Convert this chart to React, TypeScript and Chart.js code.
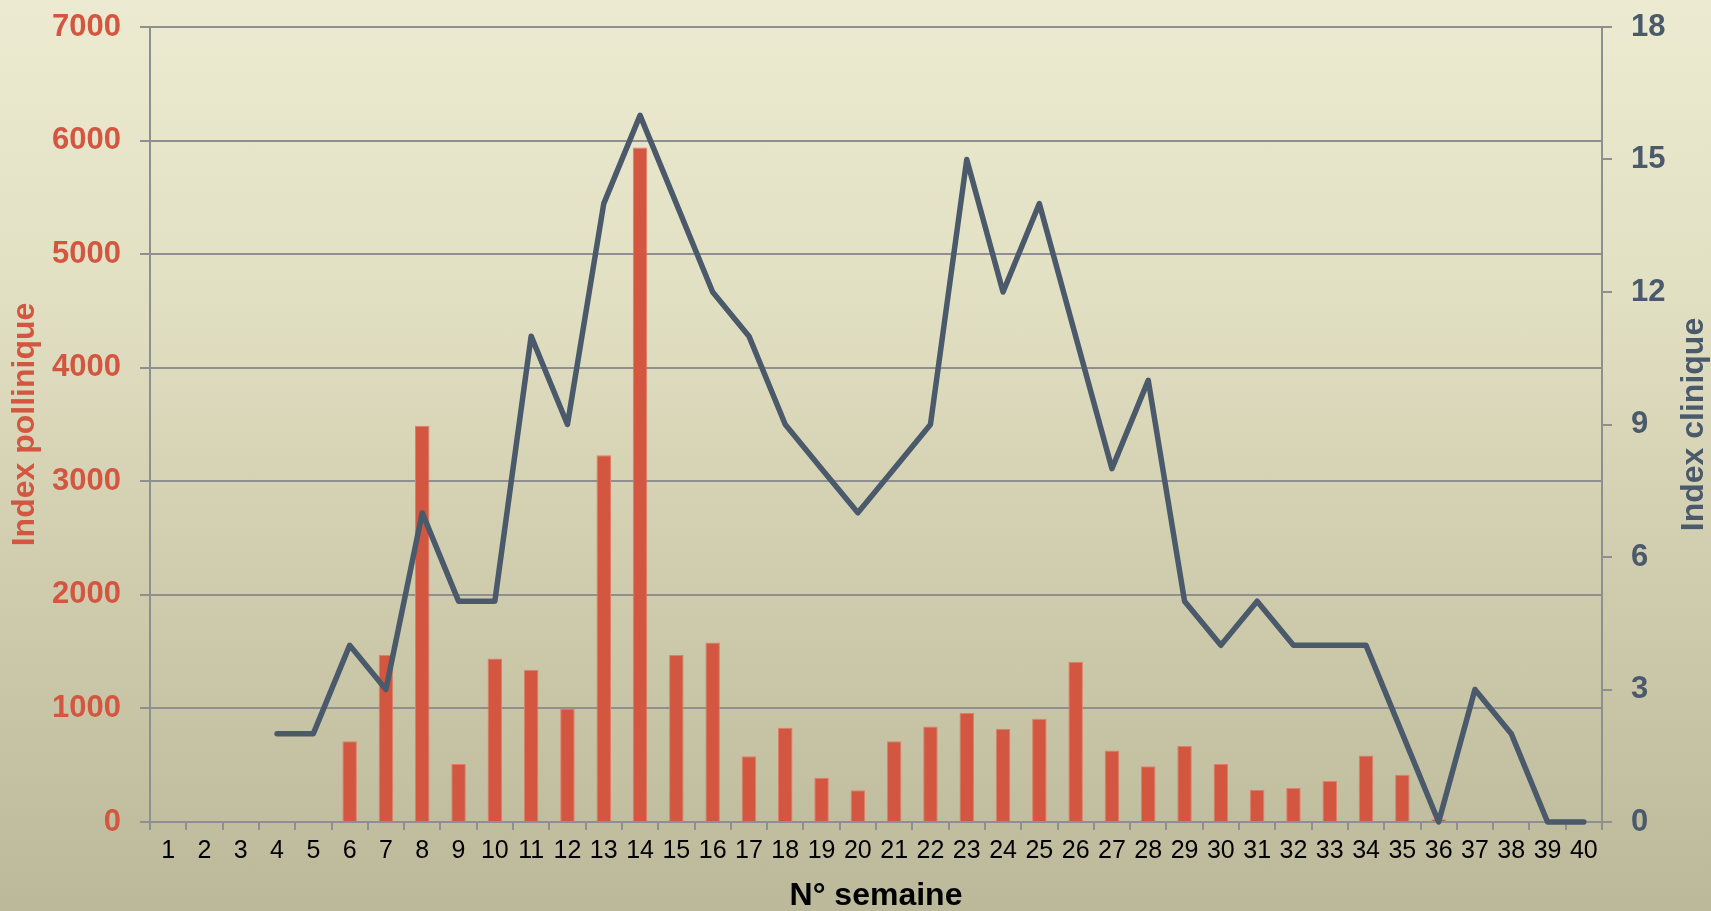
import React, { useEffect, useRef } from "react";
import { Chart, registerables } from "chart.js";

Chart.register(...registerables);

const weeks: string[] = Array.from({ length: 40 }, (_, i) => String(i + 1));

const pollenIndex: number[] = [
  0, 0, 0, 0, 0, 710, 1470, 3490, 510, 1440,
  1340, 1000, 3230, 5940, 1470, 1580, 580, 830, 390, 280,
  710, 840, 960, 820, 910, 1410, 630, 490, 670, 510,
  285, 300, 360, 585, 415, 25, 0, 0, 0, 0,
];

const clinicalIndex: (number | null)[] = [
  null, null, null, 2, 2, 4, 3, 7, 5, 5,
  11, 9, 14, 16, 14, 12, 11, 9, 8, 7,
  8, 9, 15, 12, 14, 11, 8, 10, 5, 4,
  5, 4, 4, 4, 2, 0, 3, 2, 0, 0,
];

const leftTitle = "Index pollinique";
const rightTitle = "Index clinique";
const xTitle = "N° semaine";

const RED = "#d35640";
const SLATE = "#4a5a6b";
const GRID = "#8f8f8f";
const FONT = "'Liberation Sans', Arial, sans-serif";

export default function App() {
  const ref = useRef<HTMLCanvasElement | null>(null);

  useEffect(() => {
    if (!ref.current) return;
    Chart.defaults.font.family = FONT;

    const rightTitlePlugin = {
      id: "rightTitle",
      afterDraw(chart: any) {
        const s = chart.scales.y1;
        const ctx = chart.ctx;
        ctx.save();
        ctx.translate(s.right - 17, (s.top + s.bottom) / 2);
        ctx.rotate(-Math.PI / 2);
        ctx.textAlign = "center";
        ctx.textBaseline = "middle";
        ctx.font = `bold 32px ${FONT}`;
        ctx.fillStyle = SLATE;
        ctx.fillText(rightTitle, 0, 0);
        ctx.restore();
      },
    };

    const chart = new Chart(ref.current, {
      type: "bar",
      data: {
        labels: weeks,
        datasets: [
          {
            type: "line",
            label: rightTitle,
            data: clinicalIndex,
            yAxisID: "y1",
            borderColor: SLATE,
            borderWidth: 5.5,
            borderJoinStyle: "round",
            borderCapStyle: "round",
            pointRadius: 0,
            tension: 0,
            fill: false,
            clip: false,
            order: 0,
          } as any,
          {
            type: "bar",
            label: leftTitle,
            data: pollenIndex,
            yAxisID: "y",
            backgroundColor: RED,
            borderColor: "#e07f68",
            borderWidth: 1,
            barPercentage: 0.4,
            categoryPercentage: 1,
            order: 1,
          } as any,
        ],
      },
      options: {
        responsive: false,
        animation: false,
        layout: { padding: { top: 27, left: 0, right: 0, bottom: 0 } },
        plugins: {
          legend: { display: false },
          tooltip: { enabled: false },
        },
        scales: {
          x: {
            type: "category",
            position: "bottom",
            offset: true,
            grid: {
              display: true,
              drawOnChartArea: false,
              drawTicks: true,
              tickLength: 8,
              color: GRID,
              lineWidth: 2,
              offset: true,
            },
            border: { display: true, color: GRID, width: 2 },
            ticks: {
              color: "#000",
              font: { size: 25 },
              padding: 6,
              maxRotation: 0,
              minRotation: 0,
              autoSkip: false,
            },
            title: {
              display: true,
              text: xTitle,
              color: "#000",
              font: { size: 32, weight: "bold" },
              padding: { top: 0, bottom: -4 },
            },
            afterFit: (s: any) => {
              s.height = 89;
              s.paddingLeft = 0;
              s.paddingRight = 0;
            },
          },
          y: {
            type: "linear",
            position: "left",
            min: 0,
            max: 7000,
            grid: {
              color: GRID,
              lineWidth: 2,
              drawTicks: true,
              tickLength: 10,
            },
            border: { display: true, color: GRID, width: 2 },
            ticks: {
              stepSize: 1000,
              color: RED,
              font: { size: 31, weight: "bold" },
              padding: 19,
              callback: (v: any) => String(v),
            },
            title: {
              display: true,
              text: leftTitle,
              color: RED,
              font: { size: 32, weight: "bold" },
              padding: { top: 6, bottom: 0 },
            },
            afterFit: (s: any) => {
              s.width = 150;
              s.paddingTop = 0;
              s.paddingBottom = 0;
            },
          },
          y1: {
            type: "linear",
            position: "right",
            min: 0,
            max: 18,
            grid: {
              drawOnChartArea: false,
              color: GRID,
              lineWidth: 2,
              drawTicks: true,
              tickLength: 10,
            },
            border: { display: true, color: GRID, width: 2 },
            ticks: {
              stepSize: 3,
              color: SLATE,
              font: { size: 31, weight: "bold" },
              padding: 19,
              callback: (v: any) => String(v),
            },
            afterFit: (s: any) => {
              s.width = 109;
              s.paddingTop = 0;
              s.paddingBottom = 0;
            },
          },
        },
      },
      plugins: [rightTitlePlugin],
    });

    return () => chart.destroy();
  }, []);

  return (
    <div
      style={{
        position: "fixed",
        left: 0,
        top: 0,
        width: 1711,
        height: 911,
        background: "linear-gradient(to bottom, #ecead0 0%, #e3e1c4 30%, #cfcbad 65%, #bcb99b 100%)",
      }}
    >
      <canvas ref={ref} width={1711} height={911} style={{ width: 1711, height: 911, display: "block" }} />
    </div>
  );
}
